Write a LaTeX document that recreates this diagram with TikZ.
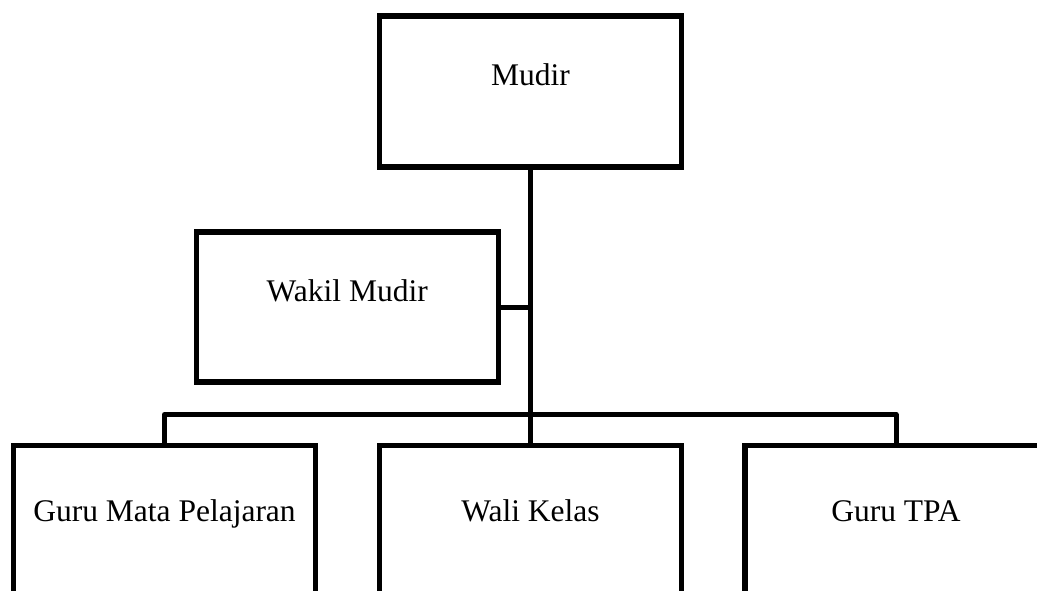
\documentclass[tikz,border=0pt]{standalone}
\usepackage{fontspec}
\setmainfont{Liberation Serif}
\usetikzlibrary{calc}
\begin{document}
\begin{tikzpicture}[x=1pt,y=-1pt,
  box/.style={draw=black,line width=5.5pt,fill=white,minimum width=302pt,minimum height=151pt,inner sep=0pt,outer sep=0pt},
  lbl/.style={font=\fontsize{31.5}{36}\selectfont,inner sep=0pt,anchor=base},
  conn/.style={draw=black,line width=5pt,line join=round}]
\fill[white] (0,0) rectangle (1037,591);
\clip (0,0) rectangle (1037,591);
% connectors first
\coordinate (m) at (530.5,91.75);
\coordinate (wk) at (347.25,307);
\coordinate (g) at (164.5,521);
\coordinate (w) at (530.5,521);
\coordinate (t) at (896,521);
\node[box] (mudir) at (m) {};
\node[box, minimum height=150pt] (wakil) at (wk) {};
\node[box] (gmp) at (g) {};
\node[box] (wali) at (w) {};
\node[box] (tpa) at (t) {};
\draw[conn] (mudir.south) -- (wali.north);
\draw[conn] (wakil.east) -- (wakil.east -| mudir.south);
\draw[conn] (gmp.north) -- ++(0,-31) -| (tpa.north);
\node[lbl] (lmudir) at ($(mudir.north)+(0,69)$) {Mudir};
\node[lbl] (lwakil) at ($(wakil.north)+(0,69.7)$) {Wakil Mudir};
\node[lbl] (lgmp) at ($(gmp.north)+(0,75.5)$) {Guru Mata Pelajaran};
\node[lbl] (lwali) at ($(wali.north)+(0,75.5)$) {Wali Kelas};
\node[lbl] (ltpa) at ($(tpa.north)+(0,75.5)$) {Guru TPA};
\end{tikzpicture}
\end{document}
